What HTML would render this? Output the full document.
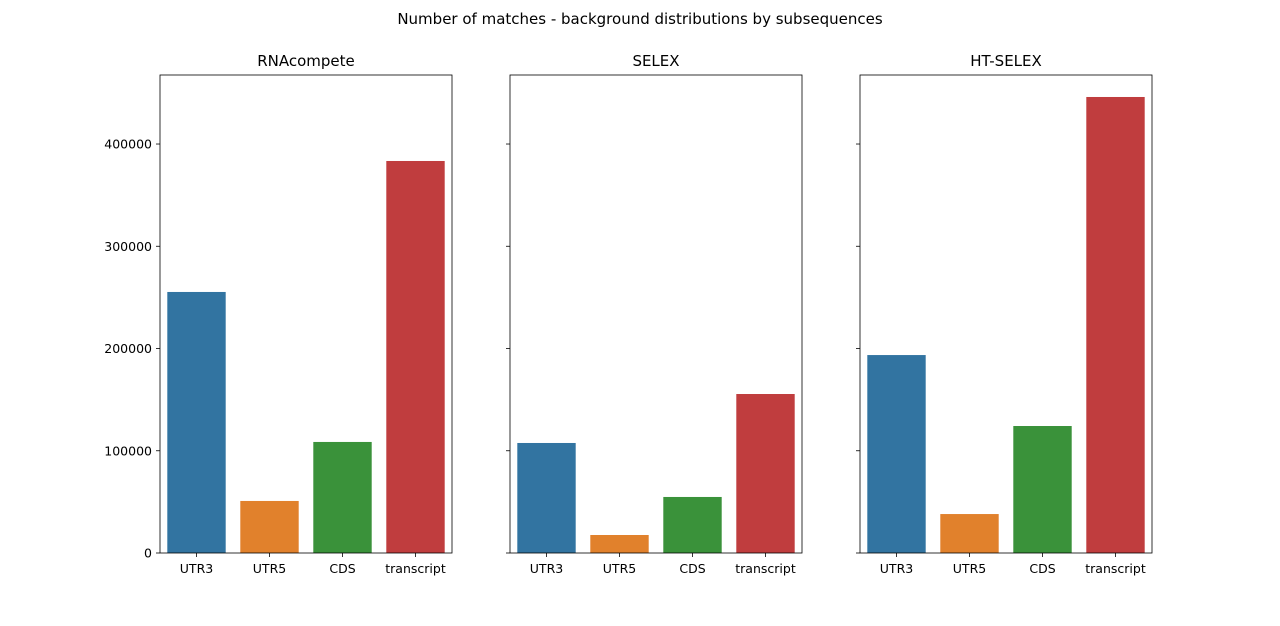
<!DOCTYPE html>
<html><head><meta charset="utf-8"><style>
body{margin:0;background:#fff;font-family:"Liberation Sans","DejaVu Sans",sans-serif}
</style></head><body>
<svg id="chart" width="1280" height="621" xmlns="http://www.w3.org/2000/svg" font-family="DejaVu Sans, Liberation Sans, sans-serif">
<text x="640" y="24" text-anchor="middle" font-size="15">Number of matches - background distributions by subsequences</text>
</svg>
<script>
const panels = ["RNAcompete","SELEX","HT-SELEX"];
const categories = ["UTR3","UTR5","CDS","transcript"];
const rnacompeteValues = [255300, 50900, 108600, 383400];
const selexValues = [107600, 17600, 54800, 155500];
const htselexValues = [193600, 38100, 124200, 446000];
const yTicks = [0, 100000, 200000, 300000, 400000];
const seriesValues = [rnacompeteValues, selexValues, htselexValues];
const colors = ["#3274a1","#e1812c","#3a923a","#c03d3e"];
const NS = "http://www.w3.org/2000/svg";
const svg = document.getElementById('chart');
const plotTop = 75, plotBottom = 553, yMax = 467500, pw = 292;
const lefts = [160, 510, 860];
function y(v){ return plotBottom - v / yMax * (plotBottom - plotTop); }
function mk(tag, attrs){ const e = document.createElementNS(NS, tag); for (const k in attrs) e.setAttribute(k, attrs[k]); svg.appendChild(e); return e; }
panels.forEach((p, pi) => {
  const L = lefts[pi];
  const band = pw / categories.length;
  const t = mk('text', {x: L + pw/2, y: 66, 'text-anchor': 'middle', 'font-size': 15});
  t.textContent = p;
  
  
  seriesValues[pi].forEach((v, i) => {
    const r = mk('rect', {x: L + band*i + band*0.1, y: y(v), width: band*0.8, height: plotBottom - y(v), fill: colors[i]});
    
    
    mk('line', {x1: L + band*(i+0.5), x2: L + band*(i+0.5), y1: plotBottom, y2: plotBottom + 4, stroke: '#000', 'stroke-width': 0.8});
    const lt = mk('text', {x: L + band*(i+0.5), y: plotBottom + 20, 'text-anchor': 'middle', 'font-size': 12.5});
    lt.textContent = categories[i];
    
    
  });
  yTicks.forEach(tv => {
    mk('line', {x1: L - 4, x2: L, y1: y(tv), y2: y(tv), stroke: '#000', 'stroke-width': 0.8});
    if (pi === 0) {
      const yt = mk('text', {x: L - 8, y: y(tv) + 4.5, 'text-anchor': 'end', 'font-size': 12.5});
      yt.textContent = tv;
      
      
    }
  });
  const fr = mk('rect', {x: L, y: plotTop, width: pw, height: plotBottom - plotTop, fill: 'none', stroke: '#000', 'stroke-width': 0.8});
  
  
});
</script>
</body></html>
